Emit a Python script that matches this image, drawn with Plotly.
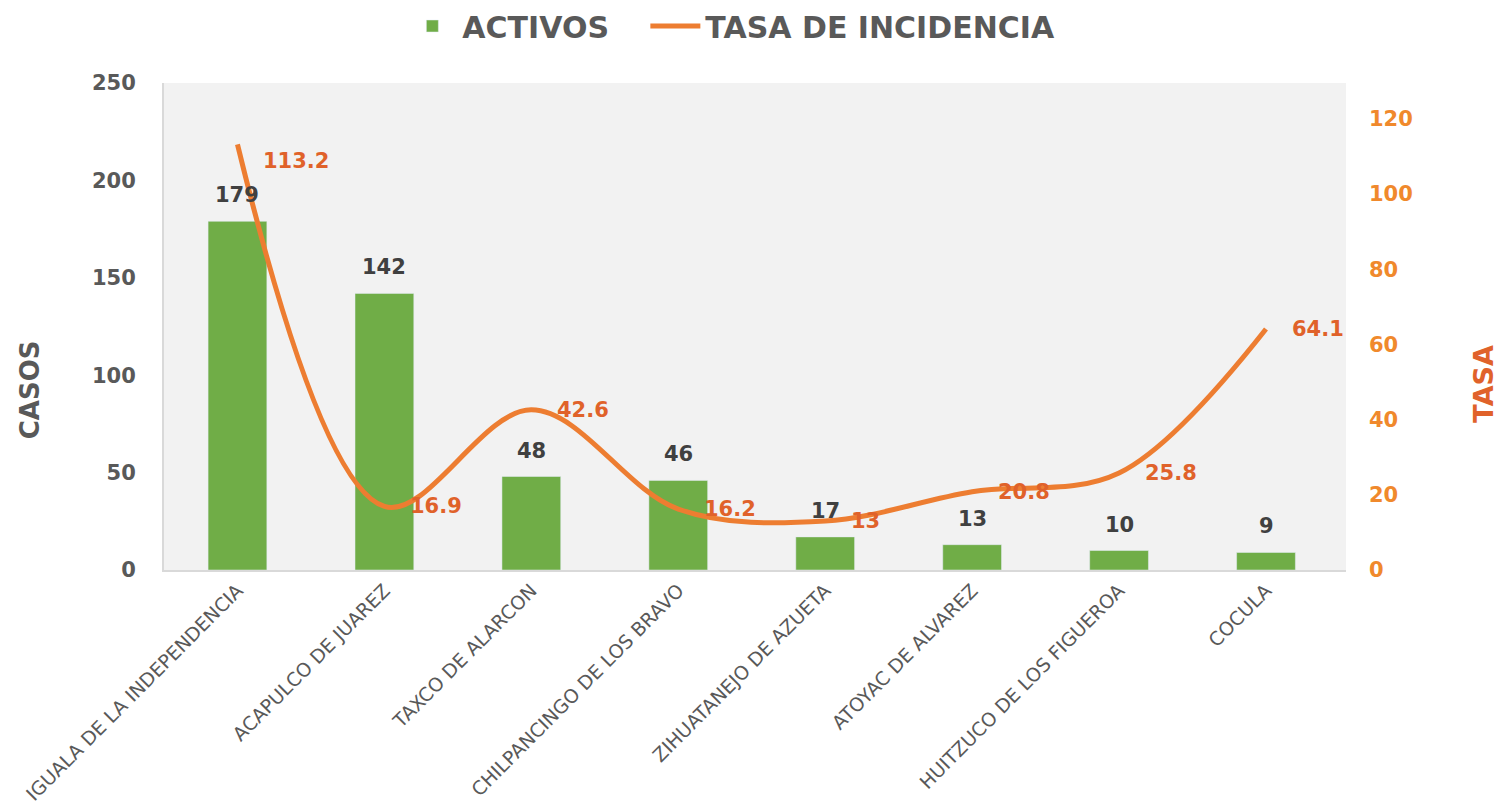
import plotly.graph_objects as go

municipios = ["IGUALA DE LA INDEPENDENCIA", "ACAPULCO DE JUAREZ", "TAXCO DE ALARCON",
              "CHILPANCINGO DE LOS BRAVO", "ZIHUATANEJO DE AZUETA", "ATOYAC DE ALVAREZ",
              "HUITZUCO DE LOS FIGUEROA", "COCULA"]
activos = [179, 142, 48, 46, 17, 13, 10, 9]
tasa = [113.2, 16.9, 42.6, 16.2, 13, 20.8, 25.8, 64.1]
tasa_labels = ["113.2", "16.9", "42.6", "16.2", "13", "20.8", "25.8", "64.1"]

FONT = "DejaVu Sans"
GRAY = "#595959"
DARK = "#404040"
GREEN = "#70AD47"
ORANGE = "#ED7D31"
RED_OR = "#E0622A"
TICK_OR = "#F0892C"

fig = go.Figure()
fig.add_trace(go.Bar(
    x=municipios, y=activos, name="ACTIVOS\u00a0\u00a0\u00a0", marker_color=GREEN, yaxis="y"))
fig.add_trace(go.Scatter(
    x=municipios, y=tasa, name="TASA DE INCIDENCIA", mode="lines",
    line=dict(color=ORANGE, width=5, shape="spline", smoothing=1.0),
    yaxis="y2"))

for m, v in zip(municipios, activos):
    fig.add_annotation(x=m, y=v, yref="y", text=str(v), showarrow=False,
                       xanchor="center", yanchor="bottom", yshift=12,
                       font=dict(family=FONT, size=21, color=DARK, weight="bold"))

for i, (m, v, t) in enumerate(zip(municipios, tasa, tasa_labels)):
    fig.add_annotation(x=m, y=v, yref="y2", text=t, showarrow=False,
                       xanchor="left", yanchor="middle", xshift=24,
                       yshift=-17 if i == 0 else 0,
                       font=dict(family=FONT, size=21, color=RED_OR, weight="bold"))

# axis titles
fig.add_annotation(xref="paper", yref="paper", x=-0.1138, y=0.37, text="CASOS",
                   textangle=-90, showarrow=False, xanchor="center", yanchor="middle",
                   font=dict(family=FONT, size=26, color=GRAY, weight="bold"))
fig.add_annotation(xref="paper", yref="paper", x=1.1165, y=0.382, text="TASA",
                   textangle=-90, showarrow=False, xanchor="center", yanchor="middle",
                   font=dict(family=FONT, size=27, color=RED_OR, weight="bold"))

fig.update_layout(
    width=1501, height=811,
    margin=dict(l=164, r=155, t=83, b=241, autoexpand=False),
    paper_bgcolor="white", plot_bgcolor="#F2F2F2",
    bargap=0.6,
    showlegend=True,
    legend=dict(orientation="h", x=0.48, xanchor="center", y=1.0, yanchor="top",
                yref="container", font=dict(family=FONT, size=30, color=GRAY, weight="bold"),
                itemwidth=50, bgcolor="rgba(0,0,0,0)"),
    xaxis=dict(tickangle=-45, tickfont=dict(family=FONT, size=19, color=GRAY),
               showline=True, linecolor="#D9D9D9", linewidth=2, showgrid=False,
               ticks="", ticklen=0, automargin=False),
    yaxis=dict(range=[0, 250], dtick=50, showgrid=False, zeroline=False, automargin=False,
               tickfont=dict(family=FONT, size=21, color=GRAY, weight="bold"),
               showline=True, linecolor="#D9D9D9", linewidth=2, ticklabelstandoff=22),
    yaxis2=dict(range=[0, 129.5], tickvals=[0, 20, 40, 60, 80, 100, 120], overlaying="y",
                side="right", showgrid=False, zeroline=False, automargin=False,
                tickfont=dict(family=FONT, size=21, color=TICK_OR, weight="bold"),
                ticklabelstandoff=22),
)

fig.write_html("out.html")
